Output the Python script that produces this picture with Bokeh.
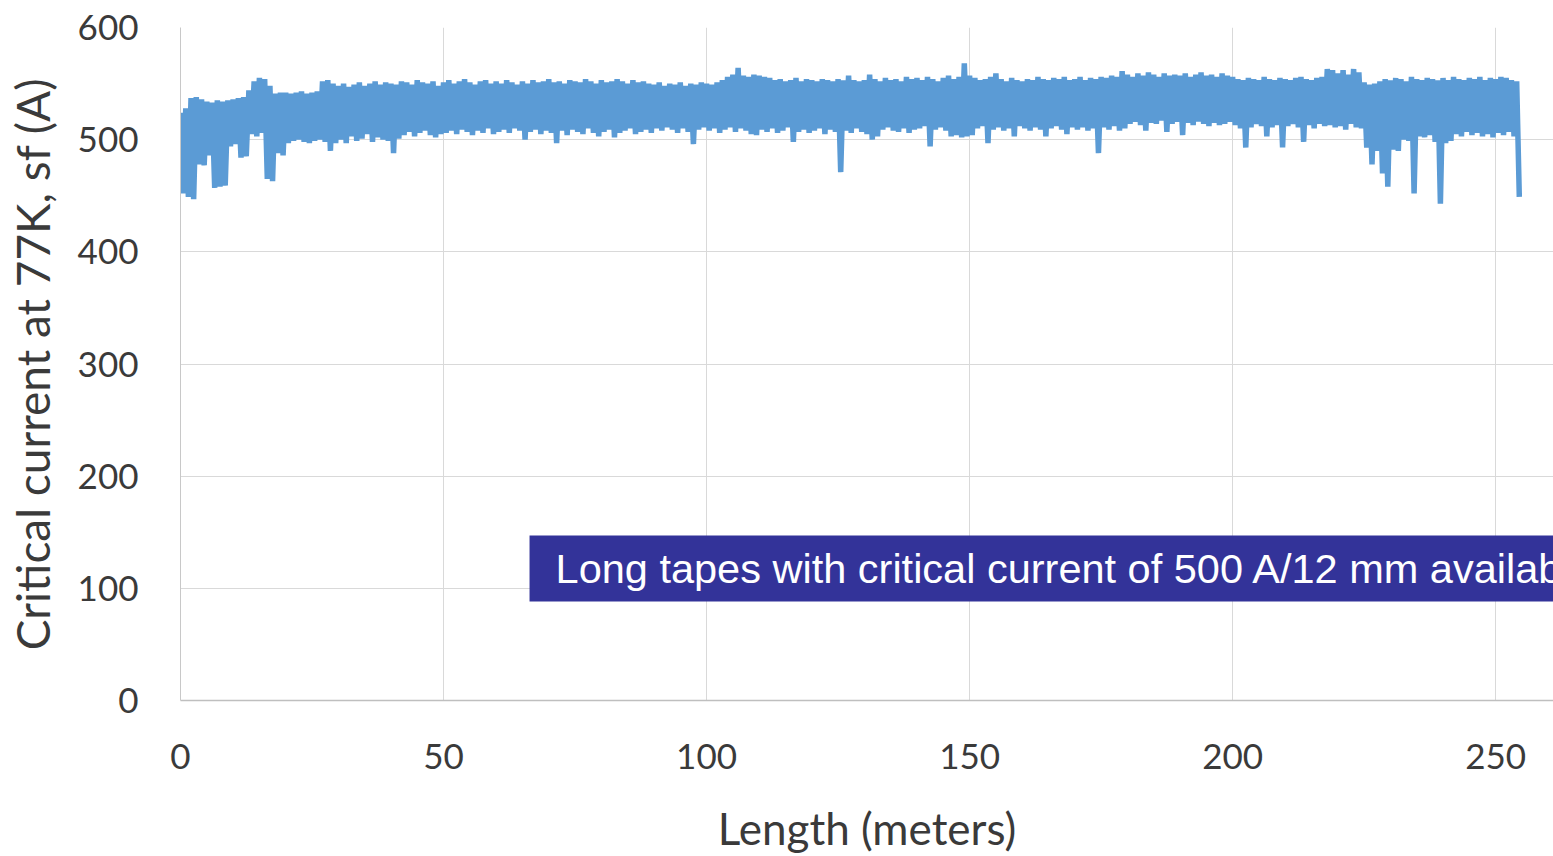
from bokeh.plotting import figure
from bokeh.models import FixedTicker, BoxAnnotation, Label, ColumnDataSource, Range1d
from bokeh.embed import file_html
from bokeh.resources import INLINE

# ---- data (critical current envelope per metre) ----
upper_A = [
    524, 528, 537, 538, 536, 534, 533, 535, 534, 535,
    536, 537, 538, 544, 552, 555, 554, 548, 541, 542,
    542, 541, 542, 543, 541, 542, 543, 552, 553, 550,
    548, 550, 547, 549, 551, 548, 550, 552, 549, 551,
    550, 549, 552, 551, 549, 553, 551, 550, 552, 548,
    551, 553, 550, 552, 554, 551, 549, 552, 553, 550,
    552, 550, 553, 551, 549, 552, 550, 553, 551, 552,
    554, 551, 552, 550, 553, 552, 551, 554, 552, 550,
    553, 551, 552, 554, 552, 550, 553, 551, 552, 550,
    549, 551, 548, 550, 549, 551, 548, 550, 549, 551,
    550, 549, 551, 553, 556, 558, 564, 557, 556, 558,
    557, 556, 555, 553, 554, 552, 553, 555, 552, 554,
    553, 552, 554, 553, 552, 554, 553, 557, 553, 552,
    553, 558, 554, 552, 555, 553, 554, 552, 556, 554,
    555, 553, 556, 554, 552, 555, 557, 554, 556, 568,
    557, 555, 553, 554, 556, 559, 554, 552, 555, 553,
    552, 554, 553, 556, 554, 553, 555, 554, 556, 553,
    554, 556, 553, 555, 554, 556, 555, 557, 556, 561,
    558, 556, 559, 557, 560, 558, 556, 559, 557, 558,
    557, 559, 556, 558, 560, 557, 558, 556, 559, 557,
    556, 554, 553, 555, 554, 553, 556, 554, 553, 555,
    554, 553, 555, 556, 554, 553, 555, 556, 563, 562,
    559, 562, 558, 563, 560, 551, 549, 550, 552, 554,
    553, 555, 554, 552, 556, 554, 553, 555, 554, 553,
    555, 553, 556, 554, 553, 555, 554, 556, 553, 555,
    554, 556, 555, 553, 552,
]
lower_A = [
    452, 449, 447, 478, 477, 486, 457, 458, 459, 494,
    496, 484, 485, 505, 503, 506, 465, 463, 488, 486,
    497, 499, 500, 498, 497, 499, 500, 498, 490, 497,
    500, 497, 503, 499, 501, 505, 498, 502, 500, 499,
    488, 501, 504, 507, 503, 506, 508, 504, 502, 505,
    506, 508, 505, 509, 507, 504, 508, 506, 510, 505,
    507, 509, 506, 510, 508, 500, 507, 509, 505, 508,
    506, 497, 508, 504, 509, 507, 505, 510, 506, 503,
    507, 509, 502, 506, 508, 510, 505, 507, 509, 506,
    510, 508, 511, 509, 506, 510, 507, 496, 509, 511,
    508, 510, 506, 509, 511, 507, 510, 508, 505, 504,
    509, 507, 510, 506, 508, 511, 498, 507, 509, 506,
    508, 510, 505, 509, 507, 471, 508, 506, 510, 507,
    505, 500, 503, 509, 511, 508, 507, 510, 506, 509,
    510, 512, 494, 509, 511, 508, 503, 504, 502, 503,
    504, 510, 512, 497, 509, 511, 508, 510, 503, 512,
    510, 508, 511, 509, 503, 510, 512, 509, 505, 511,
    509, 511, 508, 510, 488, 511, 509, 512, 508, 510,
    514, 516, 513, 508, 515, 514, 517, 507, 514, 516,
    504, 515, 513, 516, 514, 512, 515, 513, 514, 516,
    513, 510, 493, 511, 514, 512, 503, 511, 513, 493,
    512, 514, 511, 498, 513, 510, 514, 512, 513, 511,
    512, 509, 514, 511, 510, 493, 478, 490, 470, 458,
    491, 490, 500, 499, 452, 503, 502, 504, 498, 443,
    497, 499, 505, 503, 507, 504, 506, 503, 505, 502,
    506, 504, 507, 503, 449,
]
sample_step_m = 0.5          # upper and lower readings alternate every half metre
x_ticks = [0, 50, 100, 150, 200, 250]
y_ticks = [0, 100, 200, 300, 400, 500, 600]
x_label = "Length (meters)"
y_label = "Critical current at 77K, sf (A)"
note_text = "Long tapes with critical current of 500 A/12 mm available"

# build the measured trace (alternating high / low readings)
length_m, current_A = [], []
for i, (hi, lo) in enumerate(zip(upper_A, lower_A)):
    length_m += [i, i + sample_step_m]
    current_A += [hi, lo]
src = ColumnDataSource(dict(x=length_m, y=current_A))

FONT = "Lato"
TXT = "#3A3A3A"

p = figure(width=1553, height=856, output_backend="svg", toolbar_location=None,
           x_range=Range1d(0, 261), y_range=Range1d(0, 600),
           min_border_left=180, min_border_right=0, min_border_top=27,
           min_border_bottom=156)
p.outline_line_color = None
p.background_fill_color = "white"
p.border_fill_color = "white"

p.line("x", "y", source=src, line_width=5.5, line_color="#5B9BD5",
       line_join="bevel")

for ax, ticks in ((p.xaxis, x_ticks), (p.yaxis, y_ticks)):
    ax.ticker = FixedTicker(ticks=ticks)
    ax.major_tick_line_color = None
    ax.minor_tick_line_color = None
    ax.major_tick_in = 0
    ax.major_tick_out = 0
    ax.major_label_text_font = FONT
    ax.major_label_text_font_size = "35px"
    ax.major_label_text_color = TXT
    ax.axis_label_text_font = FONT
    ax.axis_label_text_font_style = "normal"
    ax.axis_label_text_color = TXT

p.xaxis.axis_label = x_label
p.yaxis.axis_label = y_label
p.xaxis.axis_label_text_font_size = "44px"
p.yaxis.axis_label_text_font_size = "46px"
p.xaxis.axis_line_color = "#BFBFBF"
p.xaxis.axis_line_width = 1.5
p.yaxis.axis_line_color = "#C8C8C8"
p.xaxis.major_label_standoff = 43
p.yaxis.major_label_standoff = 42
p.xaxis.axis_label_standoff = 30
p.yaxis.axis_label_standoff = 15

p.xgrid.grid_line_color = "#D9D9D9"
p.ygrid.grid_line_color = "#D9D9D9"

box = BoxAnnotation(left=66.35, bottom=88.3, top=147.1, fill_color="#333399",
                    fill_alpha=1.0, line_color=None)
p.add_layout(box)
note = Label(x=71.3, y=117.7, text=note_text, text_color="white",
             text_font="Liberation Sans", text_font_size="41.5px",
             text_baseline="middle", text_align="left")
p.add_layout(note)

open("out.html", "w").write(file_html(p, INLINE))
